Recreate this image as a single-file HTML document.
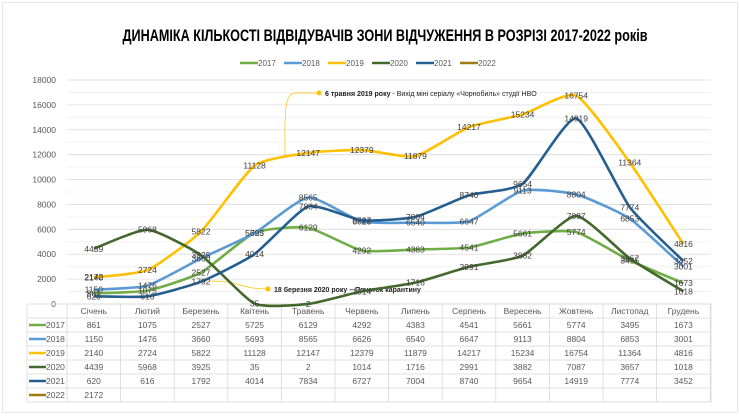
<!DOCTYPE html><html><head><meta charset="utf-8"><style>
body{margin:0;background:#fff;width:740px;height:415px;overflow:hidden;font-family:"Liberation Sans",sans-serif}
svg text{font-family:"Liberation Sans",sans-serif}
</style></head><body>
<svg id="s" width="740" height="415" xmlns="http://www.w3.org/2000/svg">
<rect x="0" y="0" width="740" height="415" fill="#fff"/>
<rect x="2.5" y="2.5" width="735" height="410" fill="none" stroke="#e6e6e6"/>
<text x="385" y="41" text-anchor="middle" font-size="16.5" font-weight="bold" fill="#000" textLength="525" lengthAdjust="spacingAndGlyphs">ДИНАМІКА КІЛЬКОСТІ ВІДВІДУВАЧІВ ЗОНИ ВІДЧУЖЕННЯ В РОЗРІЗІ 2017-2022 років</text>
<g id="g"></g>
</svg>
<script>
var g=document.getElementById('g'),h='';
var L=67,CW=53.6,B=304,K=224/18000;
var months=['Січень','Лютий','Березень','Квітень','Травень','Червень','Липень','Серпень','Вересень','Жовтень','Листопад','Грудень'];
var S=[['2017','#70AD47',[861,1075,2527,5725,6129,4292,4383,4541,5661,5774,3495,1673]],
['2018','#5B9BD5',[1150,1476,3660,5693,8565,6626,6540,6647,9113,8804,6853,3001]],
['2019','#FFC000',[2140,2724,5822,11128,12147,12379,11879,14217,15234,16754,11364,4816]],
['2020','#43682B',[4439,5968,3925,35,2,1014,1716,2991,3882,7087,3657,1018]],
['2021','#255E91',[620,616,1792,4014,7834,6727,7004,8740,9654,14919,7774,3452]],
['2022','#9E7B10',[2172]]];
for(var v=0;v<=18000;v+=1000){var y=B-v*K;h+='<line x1="67" x2="711" y1="'+y+'" y2="'+y+'" stroke="'+(v%2000?'#f0f0f0':'#dcdcdc')+'" stroke-width="0.8"/>';if(v%2000==0)h+='<text x="56" y="'+(y+3)+'" text-anchor="end" font-size="8.5" fill="#595959">'+v+'</text>';}
var lx=240;S.forEach(function(s){h+='<line x1="'+lx+'" x2="'+(lx+18)+'" y1="63" y2="63" stroke="'+s[1]+'" stroke-width="2.5"/><text x="'+(lx+18)+'" y="66" font-size="8" fill="#595959">'+s[0]+'</text>';lx+=44;});
var TL=27,TT=304,RH=14;
h+='<rect x="'+TL+'" y="'+TT+'" width="'+(711-TL)+'" height="'+(RH*7)+'" fill="none" stroke="#d9d9d9" stroke-width="0.8"/>';
for(var r=1;r<7;r++)h+='<line x1="'+TL+'" x2="711" y1="'+(TT+r*RH)+'" y2="'+(TT+r*RH)+'" stroke="#d9d9d9" stroke-width="0.8"/>';
for(var c=0;c<=12;c++){var x=L+c*CW;h+='<line x1="'+x+'" x2="'+x+'" y1="'+TT+'" y2="'+(TT+RH*7)+'" stroke="#d9d9d9" stroke-width="0.8"/>';}
months.forEach(function(m,i){h+='<text x="'+(L+CW*(i+.5))+'" y="'+(TT+10)+'" text-anchor="middle" font-size="8.5" fill="#595959">'+m+'</text>';});
S.forEach(function(s,r){var y=TT+RH*(r+1)+10;h+='<line x1="29" x2="46" y1="'+(y-3)+'" y2="'+(y-3)+'" stroke="'+s[1]+'" stroke-width="2.5"/><text x="46" y="'+y+'" font-size="8.5" fill="#595959">'+s[0]+'</text>';
s[2].forEach(function(v,i){h+='<text x="'+(L+CW*(i+.5))+'" y="'+y+'" text-anchor="middle" font-size="8.5" fill="#595959">'+v+'</text>';});});
h+='<path d="M285 158 C285 120 283 93 295 93 L319 93" fill="none" stroke="#FFC000" stroke-width="0.7"/><circle cx="319" cy="93" r="2.5" fill="#FFC000"/>';
h+='<text x="325" y="96" font-size="7" fill="#222"><tspan font-weight="bold">6 травня 2019 року</tspan> - Вихід міні серіалу «Чорнобиль» студії HBO</text>';
h+='<path d="M210 281 C240 281 240 289 268 289" fill="none" stroke="#FFC000" stroke-width="0.7"/><circle cx="268" cy="289" r="2.5" fill="#FFC000"/>';
h+='<text x="274" y="292" font-size="7" font-weight="bold" fill="#222">18 березня 2020 року – Початок карантину</text>';
S.forEach(function(s){var p=s[2].map(function(v,i){return[L+CW*(i+.5),B-v*K]});
 if(p.length>1){var d='M'+p[0][0]+' '+p[0][1];for(var i=0;i<p.length-1;i++){var p0=p[i-1]||p[i],p1=p[i],p2=p[i+1],p3=p[i+2]||p2,t=0.09;
 d+=' C'+(p1[0]+(p2[0]-p0[0])*t)+' '+(p1[1]+(p2[1]-p0[1])*t)+' '+(p2[0]-(p3[0]-p1[0])*t)+' '+(p2[1]-(p3[1]-p1[1])*t)+' '+p2[0]+' '+p2[1];}
 h+='<path d="'+d+'" fill="none" stroke="'+s[1]+'" stroke-width="2.6" stroke-linejoin="round"/>';}
 p.forEach(function(q,i){h+='<text x="'+q[0]+'" y="'+(q[1]+3)+'" text-anchor="middle" font-size="8.5" fill="#404040">'+s[2][i]+'</text>';});});
g.innerHTML=h;
</script>
</body></html>
